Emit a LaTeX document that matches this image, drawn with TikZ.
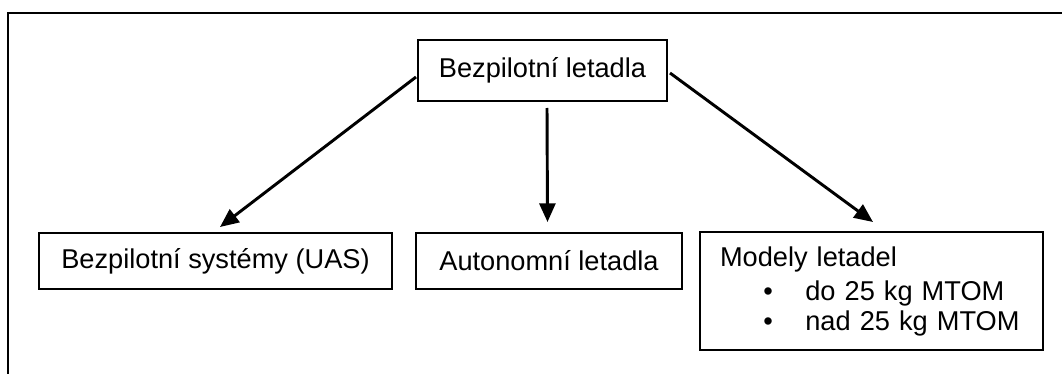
\documentclass[tikz,border=0pt]{standalone}
\usepackage{fontspec}
\setmainfont{Liberation Sans}
\usepackage{tikz}
\usetikzlibrary{arrows.meta}

\begin{document}
\begin{tikzpicture}
  [x=0.75pt,y=-0.75pt,
   box/.style={draw,line width=1.5pt,inner sep=0pt,font=\fontsize{20.4}{22.5}\selectfont},
   arr/.style={line width=2.2pt,-{Triangle[length=14pt,width=12pt]}}] % sizes are taken from the pixel grid, y runs downward
  \useasboundingbox (0,0) rectangle (1062,374);

  \draw [line width=1.5pt] (8,374) -- (8,13) -- (1062,13);

  \node [box,minimum width=186.75pt,minimum height=45.75pt] (top) at (542.5,70.5) {Bezpilotní letadla};

  \node [box,minimum width=264.75pt,minimum height=42pt] (uas) at (215.5,261) {Bezpilotní systémy (UAS)};
  \node [box,minimum width=199.5pt,minimum height=42pt] (auto) at (549,261) {Autonomní letadla};
  \node [box,minimum height=88.5pt,text width=227.25pt,inner xsep=15pt,align=left] (models) at (871.5,291)
    {Modely letadel\\[3pt]
     \hspace*{32.5pt}\makebox[31.5pt][l]{•}do~25~kg~MTOM\\
     \hspace*{32.5pt}\makebox[31.5pt][l]{•}nad~25~kg~MTOM};

  \draw [arr] ([shift={(-1,6.5)}]top.west) -- ([shift={(4.5,-5)}]uas.north);
  \draw [arr] ([shift={(4.5,6)}]top.south) -- ([shift={(-1.5,-10)}]auto.north);
  \draw [arr] ([shift={(2,2.5)}]top.east) -- ([shift={(1.5,-9)}]models.north);

\end{tikzpicture}
\end{document}
